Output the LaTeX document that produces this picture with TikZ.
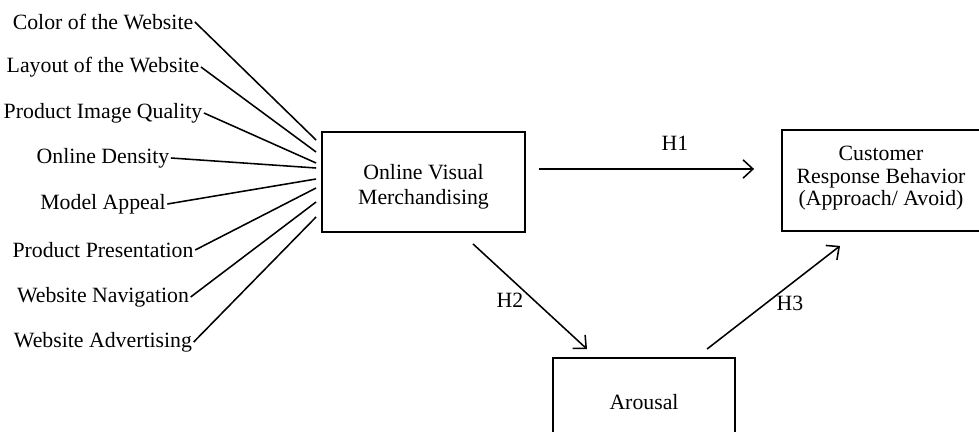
\documentclass[tikz,border=0pt]{standalone}
\usepackage{fontspec}
\setmainfont{Liberation Serif}
\usetikzlibrary{calc,arrows.meta}

\begin{document}
\begin{tikzpicture}[x=0.025cm,y=-0.025cm,font=\fontsize{15.5}{18}\selectfont,
    box/.style={draw,line width=1.3pt,align=center,inner sep=0pt},
    factor/.style={inner sep=1pt},
    link/.style={line width=1.1pt},
    hyp/.style={line width=1.1pt,-{Straight Barb[length=7pt,width=13pt,line width=1.1pt]}}]
    \useasboundingbox (0,0) rectangle (979,432);
    \coordinate (rim) at (978.6,0);
    \node[box,minimum width=5.075cm,minimum height=2.5cm] (ovm) at (423.5,182) {\\[0pt]Online Visual\\Merchandising};
    % box runs past the right margin
    \node[box,draw=none,minimum width=4.9cm,minimum height=2.475cm] (crb) at (881,180.5)
        {\\[-11pt]Customer\\[-2pt]Response Behavior\\[-2pt](Approach/ Avoid)};
    \draw[line width=1.3pt] (crb.north west -| rim) -- (crb.north west) -- (crb.south west) -- (crb.south west -| rim);
    \node[box,minimum width=4.55cm,minimum height=2.2cm] (aro) at (644,402) {Arousal};
    \foreach \txt/\ty/\dy [count=\i] in {Color of the Website/22/-42,
        Layout of the Website/67/-30,
        Product Image Quality/113/-19,
        Online Density/158/-14,
        Model Appeal/204/-3,
        Product Presentation/250/6,
        Website Navigation/297/20,
        Website Advertising/342/35}
    {
        \node[factor] (f\i) at (103,\ty) {\txt};
        \draw[link] (f\i.east) -- ($(ovm.west)+(-5,\dy)$);
    }
    \draw[hyp] ($(ovm.east)+(13,-13)$) -- ($(crb.west)+(-28,-11.5)$);
    \draw[hyp] ($(ovm.south)+(49.5,11)$) -- ($(aro.north)+(-57,-8)$);
    \draw[hyp] ($(aro.north)+(63,-8)$) -- ($(crb.south)+(-41,15)$);
    \node (h1) at (675,143) {H1};
    \node (h2) at (510,300) {H2};
    \node (h3) at (790,303) {H3};
\end{tikzpicture}
\end{document}
